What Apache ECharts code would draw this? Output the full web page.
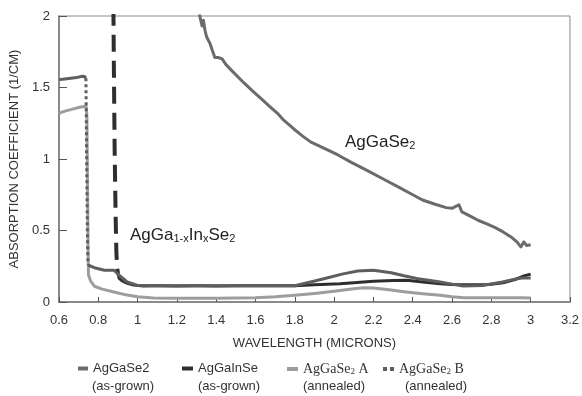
<!DOCTYPE html>
<html>
<head>
<meta charset="utf-8">
<script src="https://cdn.jsdelivr.net/npm/echarts@6/dist/echarts.min.js"></script>
<style>html,body{margin:0;padding:0;background:#fff}#c{width:582px;height:396px}</style>
</head>
<body>
<div id="c"></div>
<script>
// ---- data ----
const xTicks = {min: 0.6, max: 3.2, interval: 0.2};
const yTicks = {min: 0, max: 2, interval: 0.5};

const seriesNames = ['AgGaSe2', 'AgGaInSe', 'AgGaSe2 A', 'AgGaSe2 B'];
const subLabels = ['(as-grown)', '(as-grown)', '(annealed)', '(annealed)'];

// AgGaSe2 (as-grown)
const agGaSe2Grown = [
  [1.31,2.05],[1.318,1.99],[1.328,1.93],[1.335,1.97],[1.343,1.90],[1.35,1.86],[1.36,1.83],[1.368,1.81],
  [1.38,1.76],[1.393,1.71],[1.41,1.71],[1.43,1.70],[1.45,1.66],[1.478,1.62],[1.51,1.575],[1.543,1.53],
  [1.59,1.47],[1.63,1.42],[1.67,1.37],[1.715,1.315],[1.745,1.27],[1.795,1.21],[1.84,1.16],[1.88,1.12],
  [1.95,1.075],[2.017,1.03],[2.09,0.975],[2.167,0.92],[2.25,0.86],[2.333,0.80],[2.4,0.75],[2.45,0.713],
  [2.51,0.685],[2.57,0.66],[2.6,0.655],[2.635,0.68],[2.65,0.63],[2.7,0.595],[2.735,0.57],[2.78,0.545],
  [2.82,0.52],[2.86,0.49],[2.90,0.455],[2.93,0.42],[2.95,0.385],[2.965,0.42],[2.98,0.395],[3.0,0.40]
];

// AgGaInSe (as-grown): steep edge (dashed) and remainder
const agGaInSeEdge = [
  [0.877,2.05],[0.879,1.7],[0.881,1.4],[0.883,1.1],[0.886,0.8],[0.889,0.55],[0.892,0.35],[0.896,0.24],[0.9,0.2]
];
const agGaInSe = [
  [0.9,0.2],[0.906,0.166],[0.92,0.15],[0.948,0.13],[0.98,0.118],[1.03,0.112],[1.1,0.113],[1.2,0.112],
  [1.3,0.113],[1.4,0.112],[1.5,0.114],[1.6,0.113],[1.7,0.114],[1.8,0.114],[1.9,0.12],[2.03,0.128],
  [2.1,0.135],[2.2,0.145],[2.3,0.15],[2.37,0.152],[2.45,0.14],[2.54,0.128],[2.6,0.122],[2.66,0.12],
  [2.79,0.123],[2.86,0.135],[2.92,0.157],[2.96,0.18],[3.0,0.195]
];

// AgGaSe2 A (annealed)
const agGaSe2A = [
  [0.6,1.32],[0.63,1.335],[0.66,1.345],[0.7,1.36],[0.72,1.365],[0.738,1.37],[0.742,1.3],[0.744,1.0],
  [0.746,0.7],[0.748,0.4],[0.75,0.19],[0.76,0.15],[0.78,0.11],[0.82,0.09],[0.88,0.07],[0.94,0.05],
  [1.0,0.036],[1.08,0.028],[1.2,0.027],[1.3,0.026],[1.4,0.027],[1.5,0.028],[1.6,0.03],[1.7,0.036],
  [1.8,0.047],[1.9,0.06],[2.0,0.075],[2.1,0.092],[2.15,0.1],[2.2,0.098],[2.28,0.085],[2.355,0.072],
  [2.45,0.058],[2.54,0.047],[2.6,0.037],[2.66,0.03],[2.75,0.03],[2.85,0.03],[2.95,0.03],[3.0,0.028]
];

// AgGaSe2 B (annealed): plateau, steep edge (dotted), remainder
const agGaSe2BPlateau = [
  [0.6,1.555],[0.63,1.56],[0.66,1.565],[0.69,1.57],[0.715,1.578],[0.73,1.577],[0.737,1.565]
];
const agGaSe2BEdge = [
  [0.737,1.565],[0.739,1.3],[0.741,1.0],[0.743,0.7],[0.745,0.45],[0.747,0.3],[0.75,0.257]
];
const agGaSe2B = [
  [0.75,0.257],[0.78,0.24],[0.831,0.222],[0.86,0.222],[0.88,0.222],[0.906,0.187],[0.947,0.14],
  [0.997,0.117],[1.1,0.114],[1.2,0.113],[1.3,0.114],[1.4,0.113],[1.5,0.113],[1.6,0.114],[1.7,0.113],
  [1.8,0.114],[1.88,0.14],[1.953,0.164],[2.04,0.195],[2.12,0.217],[2.2,0.222],[2.29,0.205],
  [2.35,0.185],[2.42,0.164],[2.54,0.14],[2.6,0.125],[2.657,0.112],[2.756,0.116],[2.856,0.14],
  [2.92,0.16],[2.957,0.168],[3.0,0.168]
];

const colors = {grown: '#6b6b6b', inse: '#2e2e2e', a: '#9d9d9d', b: '#5e5e5e'};

const chart = echarts.init(document.getElementById('c'), null, {renderer: 'canvas'});
const sans = 'Liberation Sans, Arial, sans-serif';
const serif = 'Liberation Serif, Times New Roman, serif';

function lineSeries(name, data, color, width, type) {
  return {
    name: name, type: 'line', data: data, showSymbol: false, symbol: 'none',
    lineStyle: {color: color, width: width, type: type || 'solid', cap: 'butt', join: 'round'},
    itemStyle: {color: color}, animation: false, clip: true
  };
}

function legendItem(i, left, icon, iconW, iconH, rich) {
  return {
    show: true, left: left, top: 362, padding: 0, itemGap: 0,
    itemWidth: iconW, itemHeight: iconH,
    data: [{name: seriesNames[i], icon: icon}],
    selectedMode: false,
    textStyle: rich ? {
      fontFamily: serif, fontSize: 14, color: '#333',
      rich: {s: {fontFamily: serif, fontSize: 14, color: '#333'},
             sub: {fontFamily: serif, fontSize: 9, color: '#333', verticalAlign: 'bottom', lineHeight: 11}}
    } : {fontFamily: sans, fontSize: 13, color: '#333'},
    formatter: rich ? function (n) { return '{s|AgGaSe}{sub|2}{s|' + n.slice(7) + '}'; } : null
  };
}

const legendLefts = [78, 182, 287, 383];

chart.setOption({
  backgroundColor: '#fff',
  animation: false,
  grid: {left: 55, right: 9, top: 16, bottom: 94, show: true, borderColor: '#8a8a8a', borderWidth: 1},
  xAxis: {
    type: 'value', min: xTicks.min, max: xTicks.max, interval: xTicks.interval,
    name: 'WAVELENGTH (MICRONS)', nameLocation: 'middle', nameGap: 35,
    nameTextStyle: {fontFamily: sans, fontSize: 13, color: '#333'},
    axisLine: {show: true, lineStyle: {color: '#8a8a8a', width: 2}},
    axisTick: {show: true, inside: true, length: 5, lineStyle: {color: '#555', width: 1}},
    axisLabel: {fontFamily: sans, fontSize: 13, color: '#333', margin: 12,
      formatter: function (v) { return String(Math.round(v * 10) / 10); }},
    splitLine: {show: false}
  },
  yAxis: {
    type: 'value', min: yTicks.min, max: yTicks.max, interval: yTicks.interval,
    name: 'ABSORPTION COEFFICIENT (1/CM)', nameLocation: 'middle', nameGap: 31,
    nameTextStyle: {fontFamily: sans, fontSize: 13, color: '#333'},
    axisLine: {show: true, lineStyle: {color: '#777', width: 1.5}},
    axisTick: {show: true, inside: true, length: 8, lineStyle: {color: '#555', width: 1}},
    axisLabel: {fontFamily: sans, fontSize: 13, color: '#333', margin: 9},
    splitLine: {show: false}
  },
  legend: [
    legendItem(0, legendLefts[0], 'rect', 10, 4, false),
    legendItem(1, legendLefts[1], 'rect', 11, 4, false),
    legendItem(2, legendLefts[2], 'rect', 11, 4, true),
    legendItem(3, legendLefts[3], 'path://M0,0h4v4h-4z M7,0h4v4h-4z', 11, 4, true)
  ],
  graphic: [
    {type: 'text', left: 92, top: 380, style: {text: subLabels[0], font: '13px ' + sans, fill: '#333'}},
    {type: 'text', left: 198, top: 380, style: {text: subLabels[1], font: '13px ' + sans, fill: '#333'}},
    {type: 'text', left: 303, top: 380, style: {text: subLabels[2], font: '13px ' + sans, fill: '#333'}},
    {type: 'text', left: 405, top: 380, style: {text: subLabels[3], font: '13px ' + sans, fill: '#333'}},
    {type: 'text', left: 345, top: 134, style: {
      text: '{m|AgGaSe}{sb|2}',
      rich: {m: {fontFamily: sans, fontSize: 17, fill: '#222', lineHeight: 20, verticalAlign: 'bottom'},
             sb: {fontFamily: sans, fontSize: 11, fill: '#222', lineHeight: 14, verticalAlign: 'bottom'}}
    }},
    {type: 'text', left: 130, top: 227, style: {
      text: '{m|AgGa}{sb|1-x}{m|In}{sb|x}{m|Se}{sb|2}',
      rich: {m: {fontFamily: sans, fontSize: 17, fill: '#222', lineHeight: 20, verticalAlign: 'bottom'},
             sb: {fontFamily: sans, fontSize: 11, fill: '#222', lineHeight: 14, verticalAlign: 'bottom'}}
    }}
  ],
  series: [
    lineSeries(seriesNames[0], agGaSe2Grown, colors.grown, 3),
    lineSeries(seriesNames[1], agGaInSe, colors.inse, 3),
    lineSeries(seriesNames[1], agGaInSeEdge, colors.inse, 4, [17, 9]),
    lineSeries(seriesNames[2], agGaSe2A, colors.a, 3),
    lineSeries(seriesNames[3], agGaSe2BEdge, colors.b, 3, [3, 3]),
    lineSeries(seriesNames[3], agGaSe2BPlateau, colors.b, 3),
    lineSeries(seriesNames[3], agGaSe2B, colors.b, 3)
  ]
});
</script>
</body>
</html>
